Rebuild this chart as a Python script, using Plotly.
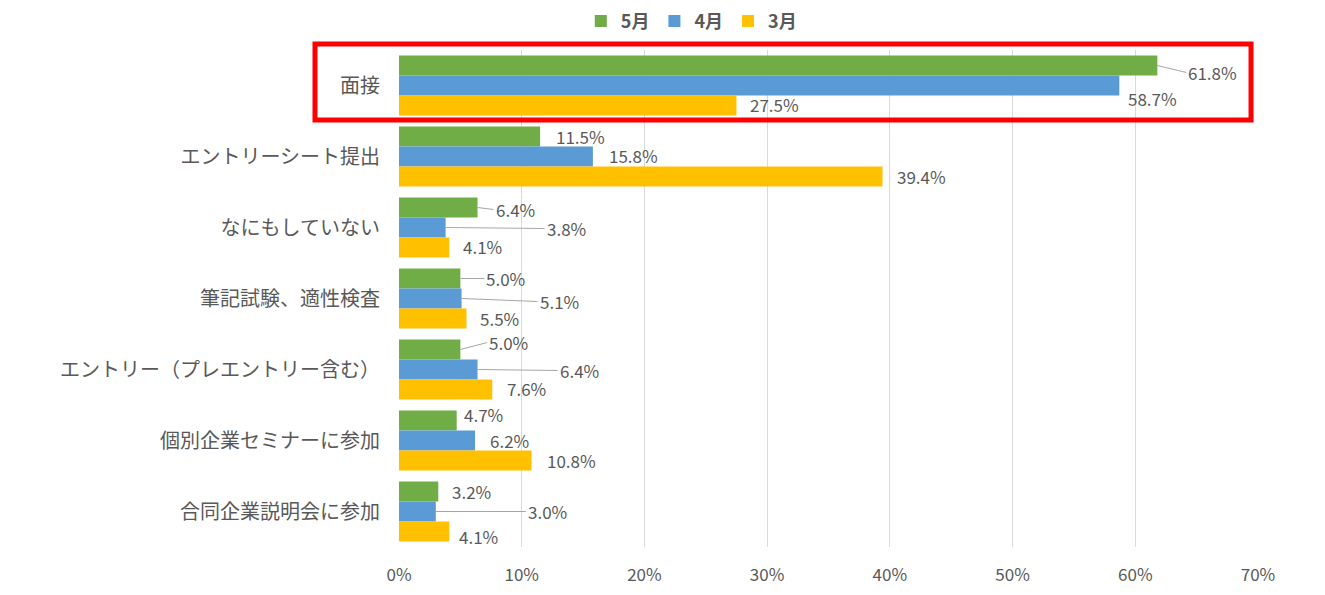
import plotly.graph_objects as go

categories = ["面接", "エントリーシート提出", "なにもしていない", "筆記試験、適性検査",
              "エントリー（プレエントリー含む）", "個別企業セミナーに参加", "合同企業説明会に参加"]
series_names = ["5月", "4月", "3月"]
may = [61.8, 11.5, 6.4, 5.0, 5.0, 4.7, 3.2]
apr = [58.7, 15.8, 3.8, 5.1, 6.4, 6.2, 3.0]
mar = [27.5, 39.4, 4.1, 5.5, 7.6, 10.8, 4.1]
tick_vals = [0, 10, 20, 30, 40, 50, 60, 70]
tick_text = ["0%", "10%", "20%", "30%", "40%", "50%", "60%", "70%"]

values = [may, apr, mar]
colors = ["#70AD47", "#5B9BD5", "#FFC000"]

# label placement (styling): (dx px from bar end, dy px from bar centre, leader line)
label_style = [
    [(31, 8, True), (16, 1, False), (18, 3, True), (26, 1, True), (29, -6, True), (7, -5, False), (14, 1, False)],
    [(9, 14, False), (16, 0, False), (101, 2, True), (78, 4, True), (82, 2, True), (15, 1, False), (92, 1, True)],
    [(14, 0, False), (15, 1, False), (14, 0, False), (14, 1, False), (15, 0, False), (15, 1, False), (10, 6, False)],
]

BARGAP = 0.155
FONT = "Noto Sans CJK JP"
GREY = "#595959"

fig = go.Figure()
for name, vals, col in zip(series_names, values, colors):
    fig.add_trace(go.Bar(y=categories, x=vals, name=name, orientation="h",
                         marker=dict(color=col, line=dict(width=0))))

w = (1 - BARGAP) / 3
annotations = []
for k, vals in enumerate(values):
    for i, v in enumerate(vals):
        dx, dy, leader = label_style[k][i]
        annotations.append(dict(
            x=v, y=i + (k - 1) * w, xref="x", yref="y",
            text=f"{v:.1f}%", showarrow=True, arrowhead=0, arrowwidth=1,
            arrowcolor="#A6A6A6" if leader else "rgba(0,0,0,0)",
            ax=dx - 2, ay=dy - 1, axref="pixel", ayref="pixel",
            xanchor="left", yanchor="middle", standoff=0, startstandoff=0,
            font=dict(family=FONT, size=17, color=GREY)))

# page body has an 8px margin: figure is sized/margined to compensate
fig.update_layout(
    width=1309, height=579,
    margin=dict(l=391, r=59, t=42, b=40, autoexpand=False),
    paper_bgcolor="white", plot_bgcolor="white",
    barmode="group", bargap=BARGAP, bargroupgap=0,
    font=dict(family=FONT, size=17, color=GREY),
    legend=dict(orientation="h", xref="container", yref="container",
                x=0.522, y=0.977, xanchor="center", yanchor="middle",
                font=dict(family=FONT, size=18, color=GREY, weight="bold"),
                itemwidth=30, traceorder="normal", borderwidth=0,
                bgcolor="rgba(0,0,0,0)"),
    xaxis=dict(range=[0, 70], tickvals=tick_vals, ticktext=tick_text,
               showgrid=True, gridcolor="#D9D9D9", gridwidth=1,
               zeroline=False, showline=False, ticks="", ticklabelstandoff=16,
               tickfont=dict(family=FONT, size=17, color=GREY), fixedrange=True),
    yaxis=dict(range=[len(categories) - 0.5, -0.5], showgrid=False, showline=False, ticks="",
               ticklabelstandoff=18, tickfont=dict(family=FONT, size=20, color=GREY)),
    annotations=annotations,
    shapes=[dict(type="rect", xref="paper", yref="paper",
                 x0=-0.0978, x1=0.9919, y0=0.859, y1=1.012,
                 line=dict(color="#FF0000", width=5), fillcolor="rgba(0,0,0,0)")],
)

fig.write_html("out.html")
